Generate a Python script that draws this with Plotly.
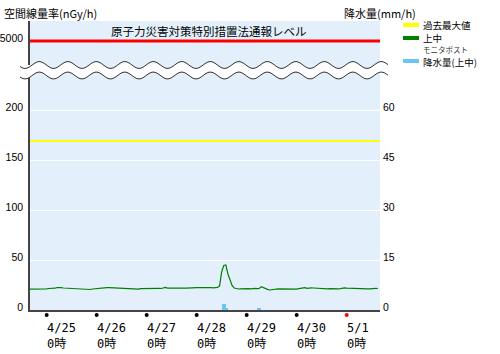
import math
import pandas as pd
import plotly.graph_objects as go

# ---------------- data ----------------
start_time = "2024-04-24 16:00"
dose_rate = [
    20.8, 20.8, 20.7, 20.8, 20.8, 20.8, 20.6, 20.8, 21.2, 21.5, 21.5, 21.6,
    21.8, 22.5, 22.6, 22.4, 22.0, 21.9, 21.3, 21.2, 21.2, 21.0, 21.2, 21.1,
    21.0, 21.1, 21.0, 20.9, 21.0, 20.5, 21.0, 21.3, 21.5, 21.7, 21.8, 21.9,
    22.3, 22.4, 22.3, 22.2, 22.0, 21.7, 21.7, 21.6, 21.7, 21.8, 21.7, 21.6,
    21.6, 21.5, 21.5, 21.4, 20.8, 21.4, 21.5, 21.6, 21.5, 21.5, 21.5, 21.6,
    21.5, 21.5, 21.6, 21.5, 21.7, 22.6, 21.9, 21.8, 21.8, 22.2, 22.2, 21.8,
    21.6, 21.7, 21.8, 21.8, 21.9, 22.7, 22.8, 22.6, 22.3, 22.3, 22.4, 22.2,
    22.3, 22.3, 22.2, 22.3, 22.2, 22.4, 22.6, 24.2, 38.0, 44.5, 45.0, 36.0,
    29.0, 24.5, 22.0, 21.2, 21.0, 21.1, 21.3, 21.0, 21.2, 21.3, 21.1, 21.5,
    21.6, 21.4, 21.5, 23.2, 22.2, 21.0, 20.6, 20.0, 20.1, 20.5, 20.8, 21.2,
    21.1, 21.2, 21.0, 20.9, 20.7, 20.7, 20.6, 20.7, 20.8, 21.3, 21.5, 21.6,
    22.4, 21.6, 22.0, 22.1, 22.0, 21.9, 21.6, 21.0, 21.1, 21.0, 20.9, 21.1,
    21.4, 21.2, 21.3, 21.2, 21.2, 21.3, 22.0, 22.1, 21.9, 21.8, 21.2, 21.1,
    21.0, 21.1, 21.0, 20.9, 21.1, 21.0, 21.1, 21.2, 21.5, 21.4, 21.6, 21.5,
]
rain_times = ["2024-04-28 12:00", "2024-04-28 13:00", "2024-04-28 14:00",
              "2024-04-29 05:00", "2024-04-29 06:00"]
rain_values = [1.8, 1.8, 0.6, 0.6, 0.6]

past_max = 169
notify_level = 5000

x_start = "2024-04-24 16:00"
x_end = "2024-05-01 16:00"

tick_days = ["2024-04-25", "2024-04-26", "2024-04-27", "2024-04-28",
             "2024-04-29", "2024-04-30", "2024-05-01"]
tick_labels = ["4/25<br>0時", "4/26<br>0時", "4/27<br>0時", "4/28<br>0時",
               "4/29<br>0時", "4/30<br>0時", "5/1<br>0時"]
tick_dot_colors = ["#000000"] * 6 + ["#FF0000"]

left_ticks = [0, 50, 100, 150, 200]
right_ticks = [0, 15, 30, 45, 60]

legend_labels = ["過去最大値", "上中", "降水量(上中)"]
legend_sub = "モニタポスト"

# ---------------- layout geometry ----------------
W, H = 500, 354
L, R, T, B = 30, 120, 21, 44
PW, PH = W - L - R, H - T - B
BG = "#E3F0FB"
GREEN = "#008000"
YELLOW = "#FFFF00"
RED = "#FF0000"
BLUE = "#6CC4F4"
NUM_FONT = "Liberation Sans, Arial, sans-serif"
JP_FONT = "Noto Sans CJK JP, sans-serif"


def px(x):
    return (x - L) / PW


def py(y):
    return (H - B - y) / PH


low_top_px = 75
up_bot_px = 65
low_max = (H - B) - low_top_px          # 1 unit per pixel
right_max = low_max * 60 / 200
up_lo = notify_level - (up_bot_px - 41)
up_hi = notify_level + (41 - T)

times = pd.date_range(start_time, periods=len(dose_rate), freq="h")

fig = go.Figure()

# rainfall bars (right axis)
fig.add_trace(go.Bar(
    x=rain_times, y=rain_values, yaxis="y2", marker_color=BLUE,
    marker_line_width=0, width=3600000, offset=0, showlegend=False,
))
# past max line
fig.add_trace(go.Scatter(
    x=[x_start, x_end], y=[past_max, past_max], mode="lines",
    line=dict(color=YELLOW, width=2), showlegend=False,
))
# dose rate
fig.add_trace(go.Scatter(
    x=times, y=dose_rate, mode="lines", line=dict(color=GREEN, width=1.2),
    showlegend=False,
))
# notification level on upper axis
fig.add_trace(go.Scatter(
    x=[x_start, x_end], y=[notify_level, notify_level], yaxis="y3", mode="lines",
    line=dict(color=RED, width=3), showlegend=False,
))

shapes = []
# background
shapes.append(dict(type="rect", xref="paper", yref="paper", x0=0, x1=1, y0=0, y1=1,
                   fillcolor=BG, line=dict(width=0), layer="below"))

# day tick dots just below the axis (anchored at each day on the x axis)
for d, c in zip(tick_days, tick_dot_colors):
    shapes.append(dict(type="circle", xref="x", xsizemode="pixel", xanchor=d,
                       x0=-2, x1=2, yref="paper", ysizemode="pixel", yanchor=0,
                       y0=-7, y1=-3, fillcolor=c, line=dict(width=0), layer="above"))


# wavy break band
def wave(center, x_from, x_to, step=1.0):
    pts = []
    x = x_from
    while x <= x_to + 1e-9:
        y = center - 3.4 * math.cos(2 * math.pi * (x - 39.3) / 28.5)
        pts.append((x, y))
        x += step
    return pts


up_w = wave(65, 20, 388)
lo_w = wave(75.5, 20, 388)
fill_path = "M " + " L ".join(f"{px(a):.5f},{py(b):.5f}" for a, b in up_w)
fill_path += " L " + " L ".join(f"{px(a):.5f},{py(b):.5f}" for a, b in reversed(lo_w)) + " Z"
shapes.append(dict(type="path", xref="paper", yref="paper", path=fill_path,
                   fillcolor="white", line=dict(width=0), layer="above"))
for wv in (up_w, lo_w):
    p = "M " + " L ".join(f"{px(a):.5f},{py(b):.5f}" for a, b in wv)
    shapes.append(dict(type="path", xref="paper", yref="paper", path=p,
                       line=dict(color="#333333", width=1), layer="above"))

# legend swatches
legend_colors = [YELLOW, GREEN, BLUE]
legend_y = [25, 38, 61]
for c, yy in zip(legend_colors, legend_y):
    shapes.append(dict(type="line", xref="paper", yref="paper",
                       x0=px(403), x1=px(419), y0=py(yy), y1=py(yy),
                       line=dict(color=c, width=4)))

annotations = []
for d, lab in zip(tick_days, tick_labels):
    annotations.append(dict(x=d, xref="x", y=0, yref="paper", text=lab, showarrow=False,
                            xanchor="left", yanchor="top", align="left", xshift=-2, yshift=-9,
                            font=dict(family="DejaVu Sans Mono, Noto Sans CJK JP", size=12,
                                      color="#000000")))
annotations.append(dict(x=0, xref="paper", y=1, yref="paper", text="空間線量率(nGy/h)",
                        showarrow=False, xanchor="left", yanchor="middle", xshift=-28, yshift=8,
                        font=dict(family=JP_FONT, size=11, color="#000000")))
annotations.append(dict(x=1, xref="paper", y=1, yref="paper", text="降水量(mm/h)",
                        showarrow=False, xanchor="left", yanchor="middle", xshift=-38, yshift=8,
                        font=dict(family=JP_FONT, size=11, color="#000000")))
annotations.append(dict(x=px(208.5), xref="paper", y=py(31), yref="paper",
                        text="原子力災害対策特別措置法通報レベル", showarrow=False,
                        xanchor="center", yanchor="middle",
                        font=dict(family=JP_FONT, size=11.5, color="#000000")))
legend_text_y = [25, 37.5, 61.5]
for lab, yy in zip(legend_labels, legend_text_y):
    annotations.append(dict(x=px(422), xref="paper", y=py(yy), yref="paper", text=lab,
                            showarrow=False, xanchor="left", yanchor="middle", borderpad=0,
                            font=dict(family=JP_FONT, size=9.5, color="#000000")))
annotations.append(dict(x=px(422), xref="paper", y=py(49.5), yref="paper", text=legend_sub,
                        showarrow=False, xanchor="left", yanchor="middle", borderpad=0,
                        font=dict(family=JP_FONT, size=7.5, color="#333333")))

fig.update_layout(
    width=W, height=H,
    margin=dict(l=L, r=R, t=T, b=B, pad=0, autoexpand=False),
    paper_bgcolor="white", plot_bgcolor="rgba(0,0,0,0)",
    showlegend=False, bargap=0,
    xaxis=dict(type="date", range=[x_start, x_end], showgrid=False, zeroline=False,
               showticklabels=False, ticks="", showline=True, linecolor="#444444",
               linewidth=1.5, anchor="y", fixedrange=True, automargin=False),
    yaxis=dict(domain=[0, py(low_top_px)], range=[0, low_max], tickvals=left_ticks,
               showgrid=True, gridcolor="white", gridwidth=1, zeroline=False,
               showline=True, linecolor="#444444", linewidth=1.5, ticks="",
               ticklabelstandoff=3, ticklabelshift=-3, automargin=False,
               tickfont=dict(family=NUM_FONT, size=10.5, color="#000000")),
    yaxis2=dict(overlaying="y", side="right", range=[0, right_max], tickvals=right_ticks,
                showgrid=False, zeroline=False, showline=False, ticks="",
                ticklabelstandoff=2, ticklabelshift=-3, automargin=False,
                tickfont=dict(family=NUM_FONT, size=10.5, color="#000000")),
    yaxis3=dict(domain=[py(up_bot_px), 1], range=[up_lo, up_hi], tickvals=[notify_level],
                showgrid=False, zeroline=False, showline=True, linecolor="#444444",
                linewidth=1.5, ticks="", anchor="x", ticklabelstandoff=3, ticklabelshift=-3,
                automargin=False,
                tickfont=dict(family=NUM_FONT, size=10.5, color="#000000")),
    shapes=shapes,
    annotations=annotations,
)

fig.write_html("out.html")
